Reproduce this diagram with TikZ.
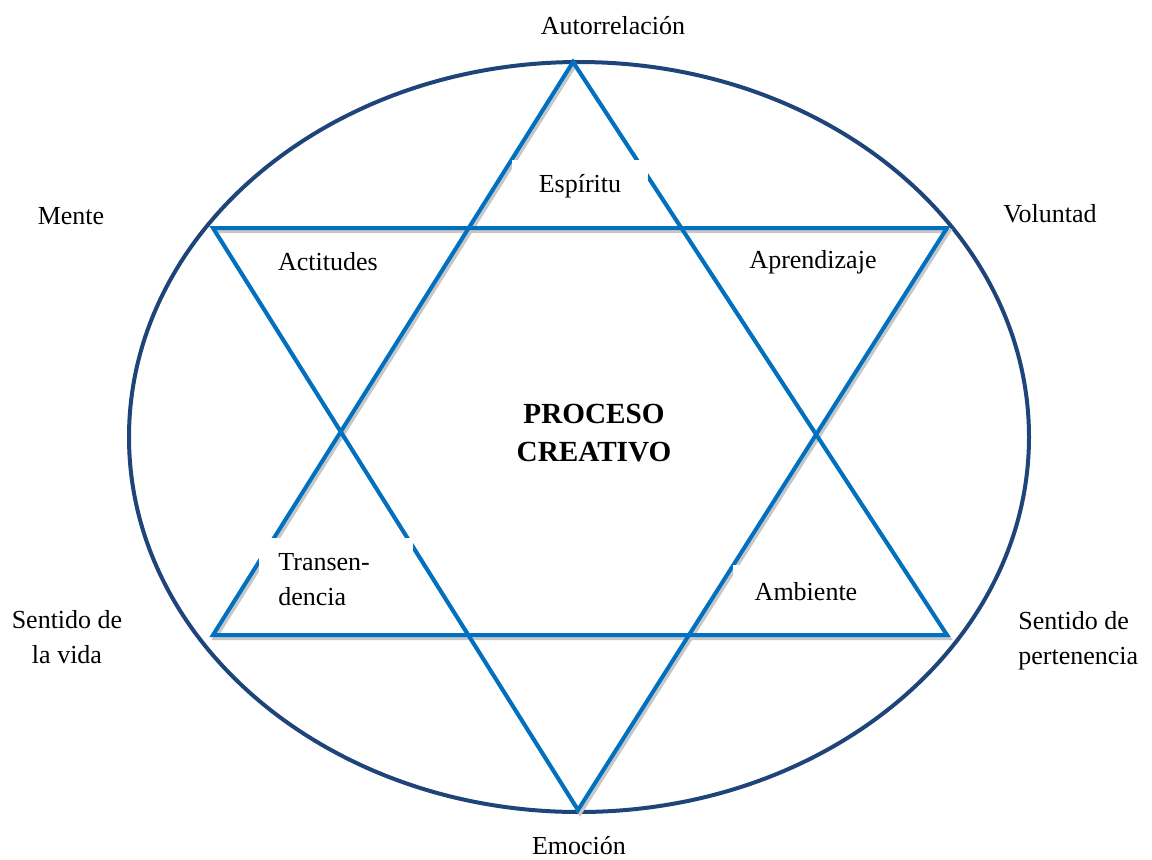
\documentclass[tikz,border=0pt]{standalone}
\usepackage{fontspec}
\setmainfont{Liberation Serif}
\definecolor{starblue}{HTML}{0070C0}
\definecolor{ringblue}{HTML}{1F4479}
\tikzset{
  ring/.style={draw=ringblue,line width=2pt},
  star/.style={draw=starblue,line width=2pt,line join=miter},
  starshadow/.style={draw=black!22,line width=2pt,line join=miter},
  label/.style={inner sep=0pt,font=\fontsize{13}{17.5}\selectfont},
  cover/.style={fill=white,inner sep=0pt,anchor=north west},
}
\begin{document}
\begin{tikzpicture}[x=0.5pt,y=-0.5pt]
	\useasboundingbox (0,0) rectangle (1152,859);

	% Ellipse
	\draw[ring] (579,437) ellipse [x radius=450,y radius=375];

	% Triangle points
	\coordinate (up) at (573,62);
	\coordinate (upl) at (213,635);
	\coordinate (upr) at (947,635);
	\coordinate (dnl) at (213,228);
	\coordinate (dnr) at (947,228);
	\coordinate (dn) at (578,810);

	% Shadows and triangles
	\draw[starshadow,transform canvas={xshift=1pt,yshift=-1.5pt}] (up) -- (upl) -- (upr) -- cycle;
	\draw[starshadow,transform canvas={xshift=1pt,yshift=-1.5pt}] (dnl) -- (dnr) -- (dn) -- cycle;
	\draw[star] (up) -- (upl) -- (upr) -- cycle;
	\draw[star] (dnl) -- (dnr) -- (dn) -- cycle;

	% White boxes in the points of the star
	\node[cover,minimum width=68pt,minimum height=18.5pt] (espbox) at (512,160) {};
	\node[cover,minimum width=78pt,minimum height=20pt] (actbox) at (257,235) {};
	\node[cover,minimum width=93pt,minimum height=18pt] (aprbox) at (727,235) {};
	\node[cover,minimum width=77pt,minimum height=39pt] (trabox) at (259,538) {};
	\node[cover,minimum width=74pt,minimum height=24pt] (ambbox) at (733,565) {};

	% Inner texts
	\node[label] (espiritu) at (580,186) {Espíritu};
	\node[label] (actitudes) at (328,262) {Actitudes};
	\node[label] (aprendizaje) at (813,262) {Aprendizaje};
	\node[label,align=left,anchor=north west] (transen) at (278,553) {Transen-\\dencia};
	\node[label] (ambiente) at (806,592) {Ambiente};
	\node[inner sep=0pt,align=center,font=\fontsize{14.6}{19}\selectfont\bfseries] (proceso) at (594,433) {PROCESO\\CREATIVO};

	% Outer texts
	\node[label] (autorrelacion) at (613,26) {Autorrelación};
	\node[label] (mente) at (71,216) {Mente};
	\node[label] (voluntad) at (1050,214) {Voluntad};
	\node[label,align=center] (vida) at (67,637) {Sentido de\\la vida};
	\node[label,align=left,anchor=west] (pertenencia) at (1018,641) {Sentido de\\pertenencia};
	\node[label] (emocion) at (579,846) {Emoción};
\end{tikzpicture}
\end{document}
